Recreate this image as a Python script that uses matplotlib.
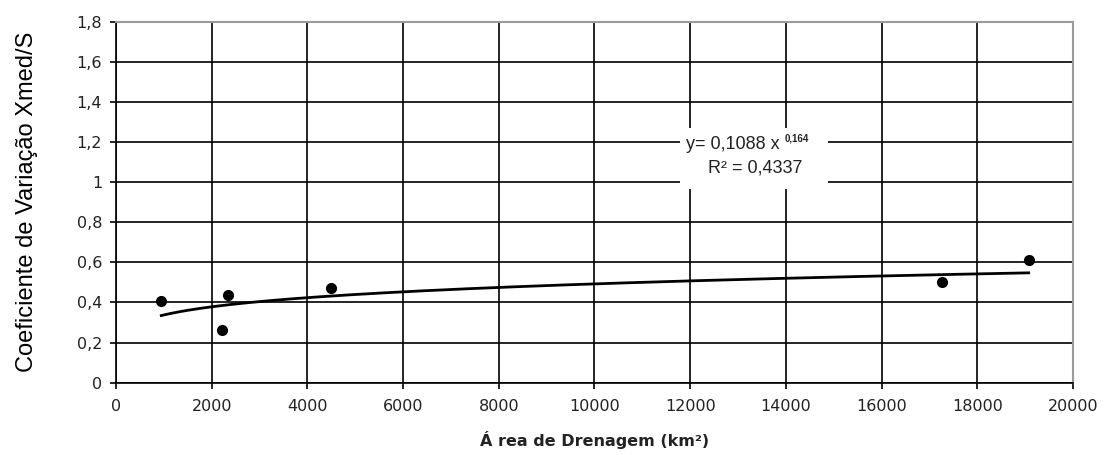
import numpy as np
import matplotlib.pyplot as plt
from matplotlib.patches import Rectangle

# drainage area (km2) and coefficient of variation per station
area = [946, 2216, 2341, 4499, 17260, 19074]
cv = [0.405, 0.262, 0.439, 0.473, 0.501, 0.614]

# power trend y = a * x^b
a = 0.1088
b = 0.164
r2 = 0.4337

xticks = list(range(0, 20001, 2000))
yticks = [0, 0.2, 0.4, 0.6, 0.8, 1.0, 1.2, 1.4, 1.6, 1.8]
ylabels = ['0', '0,2', '0,4', '0,6', '0,8', '1', '1,2', '1,4', '1,6', '1,8']

fig = plt.figure(figsize=(11.05, 4.55), dpi=100)
ax = fig.add_axes([0.105, 0.159, 0.866, 0.793])

ax.set_xlim(0, 20000)
ax.set_ylim(0, 1.8)
ax.set_xticks(xticks)
ax.set_xticklabels([str(t) for t in xticks])
ax.set_yticks(yticks)
ax.set_yticklabels(ylabels)
ax.grid(True, color='black', lw=1.2)
ax.set_axisbelow(True)

for s in ['left', 'bottom']:
    ax.spines[s].set_color('black')
    ax.spines[s].set_linewidth(1.2)
for s in ['top', 'right']:
    ax.spines[s].set_color('#9a9a9a')
    ax.spines[s].set_linewidth(1.5)

ax.tick_params(direction='out', length=4, width=1.2, color='black',
               labelsize=11.5, labelcolor='#222222')
ax.tick_params(axis='x', pad=8)
ax.tick_params(axis='y', pad=6)

# trend curve over the range of the data
xs = np.linspace(min(area), max(area), 200)
ax.plot(xs, a * xs ** b, color='black', lw=2.0, zorder=3)
ax.plot(area, cv, 'o', color='black', ms=7, zorder=4)

# equation label on a white box
ax.add_patch(Rectangle((11780, 0.966), 3100, 0.303, facecolor='white',
                       edgecolor='none', zorder=5))
eq1 = ax.text(12900, 1.186, 'y= 0,1088 x', fontsize=13, ha='center',
              va='center', family='Liberation Sans', color='#222222', zorder=6)
ax.annotate(f'{b:.3f}'.replace('.', ','), xy=(1, 0.5), xycoords=eq1,
            xytext=(3, 4.5), textcoords='offset points', fontsize=7,
            family='Liberation Sans', fontweight='bold', color='#222222',
            ha='left', va='center', zorder=6)
ax.text(13350, 1.07, 'R² = ' + f'{r2:.4f}'.replace('.', ','), fontsize=13,
        ha='center', va='center', family='Liberation Sans', color='#222222',
        zorder=6)

ax.set_xlabel('Á rea de Drenagem (km²)', fontsize=11.5, fontweight='bold',
              color='#222222', labelpad=12)
ax.set_ylabel('Coeficiente de Variação Xmed/S', fontsize=17,
              family='Liberation Sans', labelpad=28)

fig.savefig('out.png', dpi=100)
